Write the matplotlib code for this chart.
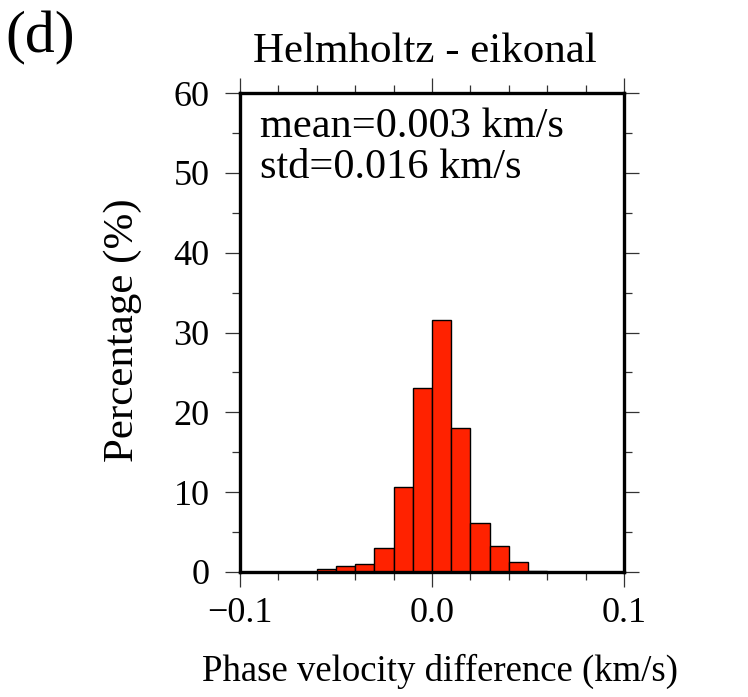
import numpy as np
import matplotlib.pyplot as plt
from matplotlib.ticker import MultipleLocator, FixedLocator

plt.rcParams['font.family'] = ['Liberation Serif', 'DejaVu Serif']
plt.rcParams['axes.unicode_minus'] = True

# histogram bins (left edges, km/s) and percentages
bin_left = [-0.06, -0.05, -0.04, -0.03, -0.02, -0.01, 0.00, 0.01, 0.02, 0.03, 0.04, 0.05]
percent = [0.4, 0.7, 1.0, 3.0, 10.7, 23.1, 31.6, 18.1, 6.1, 3.2, 1.3, 0.1]
bin_width = 0.01

x_ticks = [-0.1, 0.0, 0.1]
x_ticklabels = ['\u22120.1', '0.0', '0.1']
y_ticks = [0, 10, 20, 30, 40, 50, 60]

W, H = 748, 697
fig = plt.figure(figsize=(W / 100, H / 100), dpi=100)
ax = fig.add_axes([240 / W, 125 / H, 384 / W, 479 / H])

ax.bar(bin_left, percent, width=bin_width, align='edge',
       color='#ff2200', edgecolor='black', linewidth=1.0)

ax.set_xlim(-0.1, 0.1)
ax.set_ylim(0, 60)

ax.xaxis.set_major_locator(FixedLocator(x_ticks))
ax.set_xticklabels(x_ticklabels)
ax.xaxis.set_minor_locator(MultipleLocator(0.02))
ax.yaxis.set_major_locator(FixedLocator(y_ticks))
ax.yaxis.set_minor_locator(MultipleLocator(5))

for s in ax.spines.values():
    s.set_linewidth(2.4)

ax.tick_params(which='both', direction='out', top=True, right=True,
               labeltop=False, labelright=False, width=0.9, color='#333333')
ax.tick_params(which='major', length=10.8, labelsize=26)
ax.tick_params(axis='x', which='major', pad=7)
ax.tick_params(axis='y', which='major', pad=11)
ax.tick_params(which='minor', length=5.8)

ax.set_xlabel('Phase velocity difference (km/s)', fontsize=26.5)
ax.xaxis.label.set_va('baseline')
ax.xaxis.set_label_coords((440 - 240) / 384, (572 - 681) / 479)
ax.set_ylabel('Percentage (%)', fontsize=31)
ax.yaxis.label.set_va('center')
ax.yaxis.set_label_coords((123 - 240) / 384, (572 - 330) / 479)

fig.text(425 / W, 1 - 62 / H, 'Helmholtz - eikonal', ha='center', va='baseline', fontsize=31)
fig.text(5 / W, 1 - 52 / H, '(d)', ha='left', va='baseline', fontsize=43)

ax.text((260 - 240) / 384, (572 - 137) / 479, 'mean=0.003 km/s', transform=ax.transAxes,
        ha='left', va='baseline', fontsize=30.5)
ax.text((260 - 240) / 384, (572 - 178) / 479, 'std=0.016 km/s', transform=ax.transAxes,
        ha='left', va='baseline', fontsize=30.5)

fig.savefig('out.png', dpi=100)
